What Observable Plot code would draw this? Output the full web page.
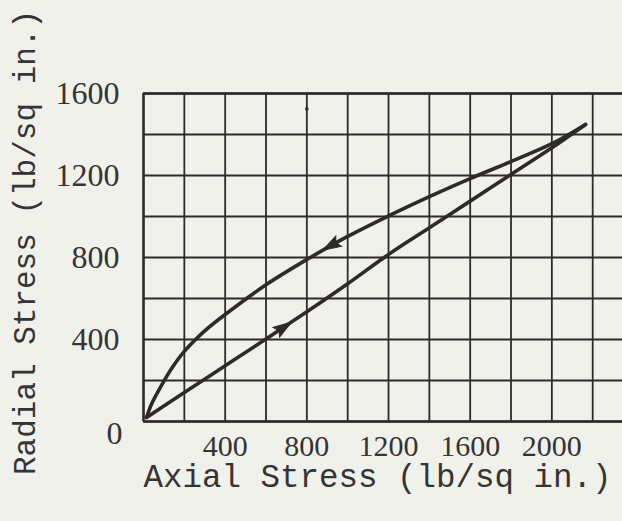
<!DOCTYPE html>
<html><head><meta charset="utf-8">
<script src="https://cdn.jsdelivr.net/npm/d3@7"></script>
<script src="https://cdn.jsdelivr.net/npm/@observablehq/plot@0.6"></script>
<style>html,body{margin:0;padding:0;background:#f1f1ec;overflow:hidden}</style>
</head><body><div id="chart"></div>
<script>
// ---- data ----
const xGridTicks = [0, 200, 400, 600, 800, 1000, 1200, 1400, 1600, 1800, 2000, 2200];
const yGridTicks = [0, 200, 400, 600, 800, 1000, 1200, 1400, 1600];
const xTickLabels = [400, 800, 1200, 1600, 2000];
const yTickLabels = [400, 800, 1200, 1600];
const yZeroLabel = [0];

// loading branch (arrow up-right)
const loadingX = [15, 200, 400, 600, 800, 1000, 1200, 1400, 1600, 1800, 2000, 2165];
const loadingY = [20, 142, 272, 402, 535, 672, 815, 945, 1075, 1205, 1335, 1449];
// unloading branch (arrow down-left), from the peak back to the origin
const unloadingX = [2165, 2000, 1800, 1600, 1400, 1200, 1000, 800, 600, 400, 300, 200, 140, 80, 40, 15];
const unloadingY = [1449, 1355, 1268, 1185, 1097, 1003, 903, 790, 667, 522, 442, 342, 262, 162, 87, 20];

// arrowheads placed on each branch
const arrowBranch = ["loading", "unloading"];
const arrowX = [680, 925];
const arrowY = [455, 862];

// small speck near the top of the grid
const speckX = [800];
const speckY = [1525];

const xTitle = "Axial Stress (lb/sq in.)";
const yTitle = "Radial Stress (lb/sq in.)";

// ---- layout ----
const W = 622, H = 521;
const mL = 143, mR = 0, mT = 93, mB = 100;
const xDomain = [0, 2346], yDomain = [0, 1600];
const ink = "#2e2a2a";
const textInk = "#353333";
const fmt = d => String(d);

const loading = loadingX.map((x, i) => ({x, y: loadingY[i]}));
const unloading = unloadingX.map((x, i) => ({x, y: unloadingY[i]}));
const branches = {loading, unloading};

const sx = Plot.scale({x: {domain: xDomain, range: [mL, W - mR]}});
const sy = Plot.scale({y: {domain: yDomain, range: [H - mB, mT]}});

function direction(curve, ax) {
  // travel direction along the curve (data order), at the segment containing ax
  for (let j = 0; j < curve.length - 1; j++) {
    const a = curve[j], b = curve[j + 1];
    if ((ax - a.x) * (ax - b.x) <= 0) {
      const dx = sx.apply(b.x) - sx.apply(a.x);
      const dy = sy.apply(b.y) - sy.apply(a.y);
      return Math.atan2(dx, -dy) * 180 / Math.PI;
    }
  }
  return 0;
}
const arrows = arrowBranch.map((b, i) => ({
  x: arrowX[i], y: arrowY[i], angle: direction(branches[b], arrowX[i])
}));
const specks = speckX.map((x, i) => ({x, y: speckY[i]}));

const arrowHead = {
  draw(ctx, size) {
    const r = Math.sqrt(size / Math.PI);
    const L = 2.6 * r, w = 0.85 * r;
    ctx.moveTo(0, -0.6 * L);
    ctx.lineTo(w, 0.4 * L);
    ctx.lineTo(0, 0.22 * L);
    ctx.lineTo(-w, 0.4 * L);
    ctx.closePath();
  }
};

const plot = Plot.plot({
  width: W, height: H,
  marginLeft: mL, marginRight: mR, marginTop: mT, marginBottom: mB,
  style: {background: "#f1f1ec", overflow: "visible"},
  x: {domain: xDomain, label: null},
  y: {domain: yDomain, label: null},
  marks: [
    Plot.gridX(xGridTicks, {stroke: ink, strokeOpacity: 1, strokeWidth: 1.8}),
    Plot.gridY(yGridTicks, {stroke: ink, strokeOpacity: 1, strokeWidth: 1.8}),
    Plot.ruleX([0], {stroke: ink, strokeWidth: 2.4}),
    Plot.ruleY([0, 1600], {stroke: ink, strokeWidth: 2.4}),
    Plot.line(loading, {x: "x", y: "y", curve: "catmull-rom", stroke: ink, strokeWidth: 3.6, strokeLinecap: "round"}),
    Plot.line(unloading, {x: "x", y: "y", curve: "catmull-rom", stroke: ink, strokeWidth: 3.6, strokeLinecap: "round"}),
    Plot.dot(arrows, {x: "x", y: "y", rotate: "angle", symbol: arrowHead, r: 7, fill: ink, stroke: ink, strokeWidth: 1}),
    Plot.dot(specks, {x: "x", y: "y", r: 1.8, fill: ink, stroke: "none"}),
    Plot.axisX(xTickLabels, {tickSize: 0, tickPadding: 13, tickFormat: fmt, fontSize: 30, fontFamily: "Liberation Serif", color: textInk, label: null}),
    Plot.axisY(yTickLabels, {tickSize: 0, tickPadding: 24, tickFormat: fmt, fontSize: 32, fontFamily: "Liberation Serif", color: textInk, label: null}),
    Plot.axisY(yZeroLabel, {tickSize: 0, tickPadding: 21, tickFormat: fmt, fontSize: 32, fontFamily: "Liberation Serif", color: textInk, label: null, dy: 12}),
    Plot.text([xTitle], {frameAnchor: "bottom-left", textAnchor: "start", lineAnchor: "middle", dy: 55, fontSize: 32.5, fontFamily: "Liberation Mono", fill: textInk}),
    Plot.text([yTitle], {frameAnchor: "left", textAnchor: "middle", lineAnchor: "middle", rotate: -90, dx: -118, dy: -15, fontSize: 31, fontFamily: "Liberation Mono", fill: textInk})
  ]
});
document.getElementById("chart").appendChild(plot);
</script></body></html>
